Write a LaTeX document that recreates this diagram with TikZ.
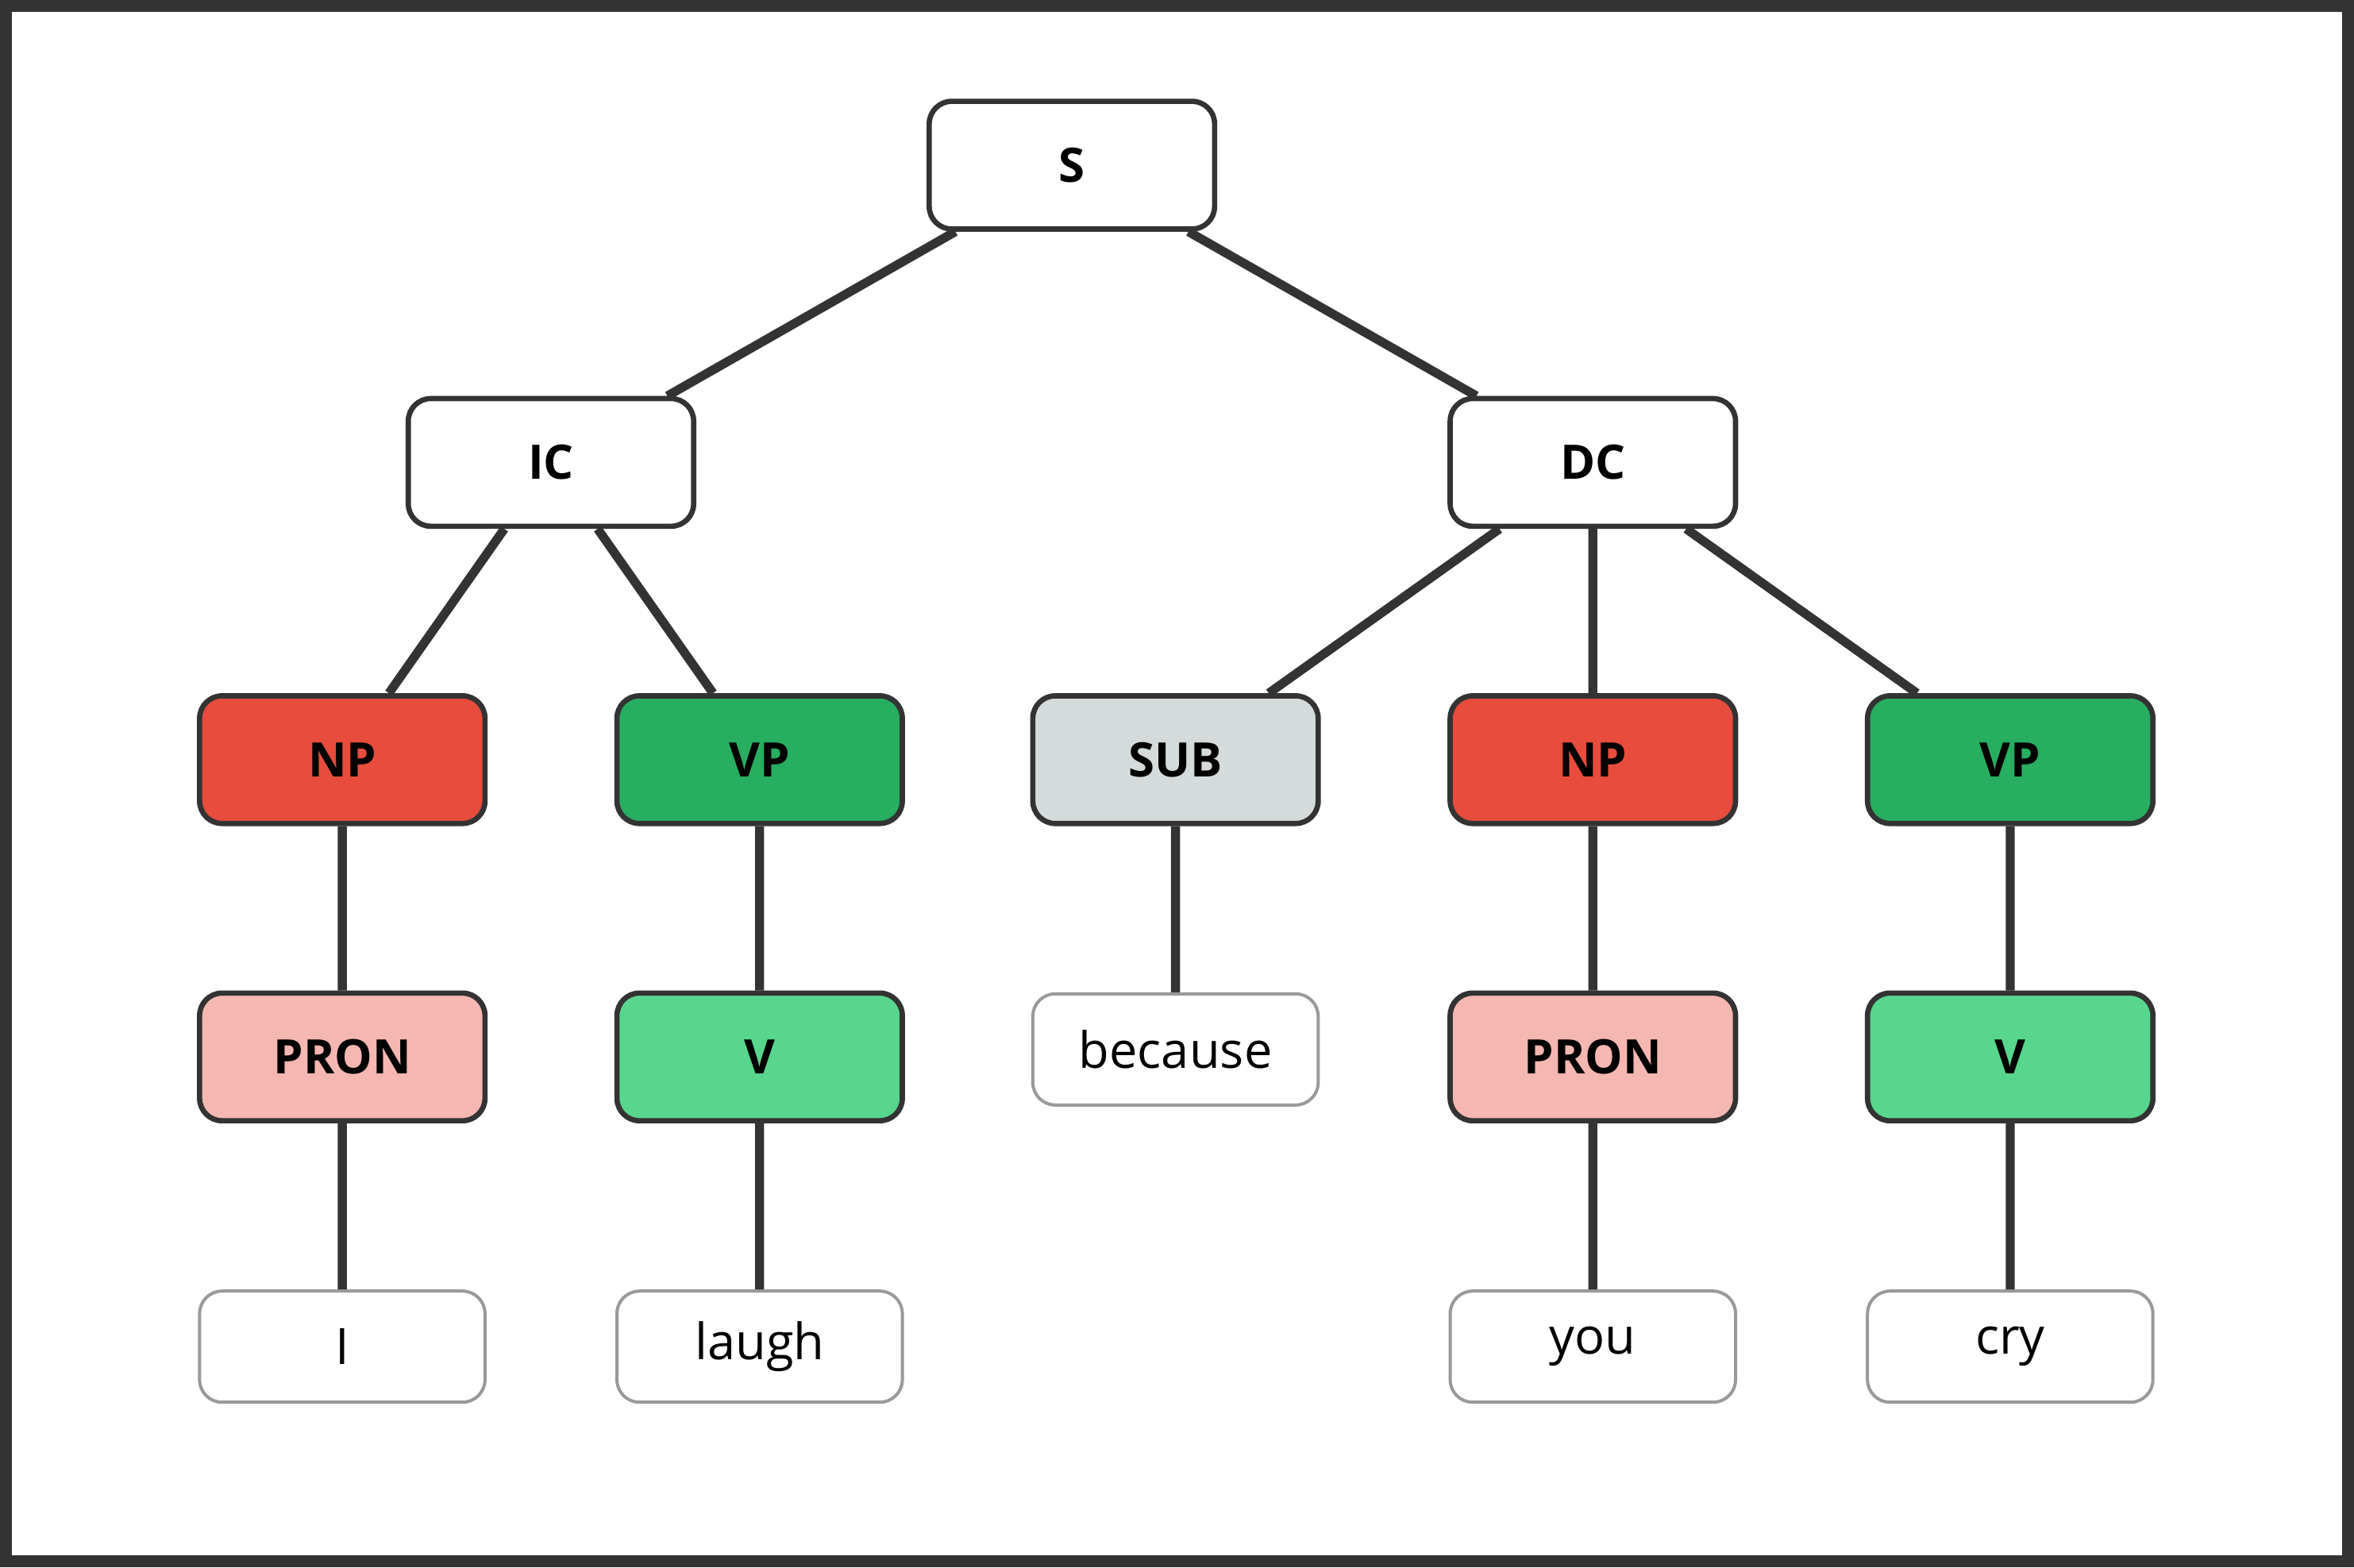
\documentclass[tikz,border=0pt]{standalone}
\usepackage{fontspec}
\setmainfont{Open Sans}
\usetikzlibrary{positioning}
\definecolor{edgegray}{HTML}{333333}
\definecolor{npred}{HTML}{E74C3C}
\definecolor{vpgreen}{HTML}{27AE60}
\definecolor{subgray}{HTML}{D5DBDB}
\definecolor{pronpink}{HTML}{F5B7B1}
\definecolor{vgreen}{HTML}{58D68D}
\tikzset{
  cat/.style={draw=edgegray, line width=1pt, rounded corners=0.15cm,
    minimum width=1.9cm, minimum height=0.85cm, font=\bfseries\fontsize{9}{10}\selectfont},
  word/.style={draw=black!40, line width=0.6pt, rounded corners=0.15cm,
    minimum width=1.9cm, minimum height=0.74cm, font=\fontsize{9.5}{11}\selectfont},
  link/.style={draw=edgegray, line width=1.7pt}
}
\begin{document}
\begin{tikzpicture}[x=0.01cm,y=-0.01cm]
\useasboundingbox (0,0) rectangle (1568,1044);
\draw[edgegray, line width=0.08cm] (4,4) rectangle (1564,1040);

% Clause level
\node[cat, fill=white] (s) at (714,110) {S};
\node[cat, fill=white] (ic) at (367,308) {IC};
\node[cat, fill=white] (dc) at (1061,308) {DC};

% Phrase level
\node[cat, fill=npred] (np1) at (228,506) {NP};
\node[cat, fill=vpgreen] (vp1) at (506,506) {VP};
\node[cat, fill=subgray] (sub) at (783,506) {SUB};
\node[cat, fill=npred] (np2) at (1061,506) {NP};
\node[cat, fill=vpgreen] (vp2) at (1339,506) {VP};

% Word class level
\node[cat, fill=pronpink] (pron1) at (228,704) {PRON};
\node[cat, fill=vgreen] (v1) at (506,704) {V};
\node[word] (because) at (783,699) {because};
\node[cat, fill=pronpink] (pron2) at (1061,704) {PRON};
\node[cat, fill=vgreen] (v2) at (1339,704) {V};

% Words
\node[word] (w1) at (228,897) {I};
\node[word] (w2) at (506,897) {laugh};
\node[word] (w3) at (1061,897) {you};
\node[word] (w4) at (1339,897) {cry};

% Links
\draw[link] (s) -- (ic) (s) -- (dc)
  (ic) -- (np1) (ic) -- (vp1)
  (dc) -- (sub) (dc) -- (np2) (dc) -- (vp2)
  (np1) -- (pron1) (vp1) -- (v1) (sub) -- (because)
  (np2) -- (pron2) (vp2) -- (v2)
  (pron1) -- (w1) (v1) -- (w2) (pron2) -- (w3) (v2) -- (w4);
\end{tikzpicture}
\end{document}
